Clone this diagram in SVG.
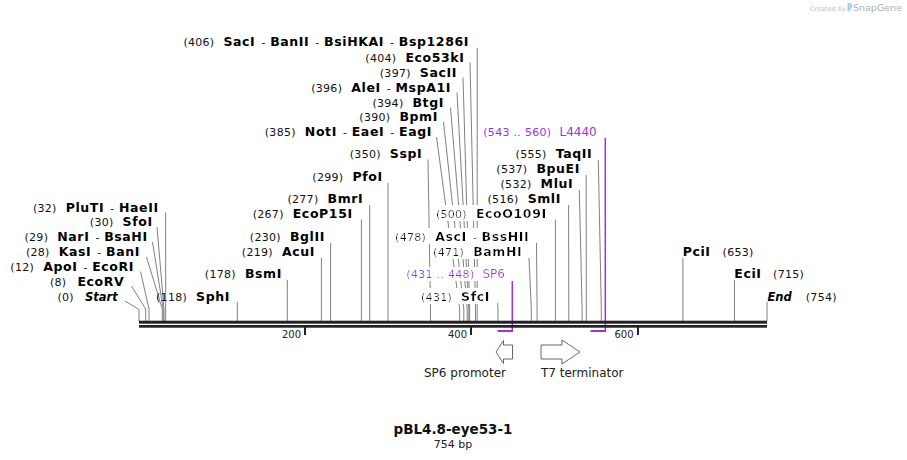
<svg xmlns="http://www.w3.org/2000/svg" width="907" height="460" viewBox="0 0 907 460">
<defs>
<filter id="bg" x="-0.02" y="0" width="1.04" height="1"><feFlood flood-color="#ffffff"/><feComposite in="SourceGraphic" operator="over"/></filter>
</defs>
<style>
text { font-family: "DejaVu Sans", Verdana, sans-serif; }
.lbl { font-size: 11px; fill: #111; text-anchor: end; letter-spacing: 0.3px; }
.r { text-anchor: start; }
.b { font-weight: bold; font-size: 12.5px; fill: #000; letter-spacing: 0.6px; }
.i { font-style: italic; font-size: 11.5px; letter-spacing: 0px; }
.p { fill: #9b30e8; }
.pn { font-size: 12px; letter-spacing: 0px; }
.hb { filter: url(#bg); }
.c { fill: none; stroke: #808080; stroke-width: 1; }
.pl { fill: none; stroke: #9b30e8; stroke-width: 1.5; }
.ph { fill: none; stroke: #9b30e8; stroke-width: 2; }
.bb { fill: #222; }
.arrow { fill: #fff; stroke: #666; stroke-width: 1; }
.feat { font-size: 12px; fill: #222; }
.tick { font-size: 10px; fill: #222; text-anchor: end; }
</style>
<rect width="907" height="460" fill="#fff"/>

<g id="watermark">
<text x="810" y="10.5" font-size="6.5" fill="#c0c0c0">Created by</text>
<path d="M847.5,3 h3 a1.5,1.5 0 0 1 1.5,1.5 v3 l-3,4 h-1.5 z" fill="#a9d4ee"/>
<text x="853" y="11" font-size="9.5" fill="#b0b0b0">SnapGene</text>
</g>

<g id="connectors">
<polyline class="c" points="125,301 139,309.5 139,321"/>
<polyline class="c" points="131.5,286 145.7,309 145.7,321"/>
<polyline class="c" points="140.5,271.5 149,309 149,321"/>
<polyline class="c" points="146.5,257 162.3,309 162.3,321"/>
<polyline class="c" points="152.5,242 163.2,309 163.2,321"/>
<polyline class="c" points="157,227 164,309 164,321"/>
<polyline class="c" points="165.6,212.5 165.7,309 165.7,321"/>
<polyline class="c" points="237.3,302 237.3,321"/>
<polyline class="c" points="287.3,280 287.3,321"/>
<polyline class="c" points="321.4,258 321.4,321"/>
<polyline class="c" points="330.6,243 330.6,321"/>
<polyline class="c" points="361.4,219.5 361.4,321"/>
<polyline class="c" points="369.7,205 369.7,321"/>
<polyline class="c" points="388,183 388,321"/>
<polyline class="c" points="428,159.5 430.5,309 430.5,321"/>
<polyline class="c" points="436.5,137 459.7,309 459.7,321"/>
<polyline class="c" points="443.5,122 463.8,309 463.8,321"/>
<polyline class="c" points="450.5,107.5 467.2,309 467.2,321"/>
<polyline class="c" points="457,92.5 468.8,309 468.8,321"/>
<polyline class="c" points="463,77.5 469.7,309 469.7,321"/>
<polyline class="c" points="470,62.5 475.5,309 475.5,321"/>
<polyline class="c" points="477.2,48 477.2,321"/>
<polyline class="c" points="497.6,303 498,309 498,321"/>
<polyline class="c" points="529,258 531.3,309 531.3,321"/>
<polyline class="c" points="536.5,243 537.1,309 537.1,321"/>
<polyline class="c" points="555.4,219.5 555.4,321"/>
<polyline class="c" points="568.6,205 568.8,309 568.8,321"/>
<polyline class="c" points="579.3,190 582.1,309 582.1,321"/>
<polyline class="c" points="586.2,175 586.3,309 586.3,321"/>
<polyline class="c" points="598.3,160 601.3,309 601.3,321"/>
<polyline class="c" points="682.9,258 682.9,321"/>
<polyline class="c" points="734.5,280 734.5,321"/>
<polyline class="c" points="767,302 767,321"/>
<polyline class="pl" points="512.3,281 512.3,331"/>
<polyline class="ph" points="497.5,331 513,331"/>
<polyline class="pl" points="605.3,138 605.3,331"/>
<polyline class="ph" points="590.5,331 606,331"/>
</g>

<g id="backbone">
<rect class="bb" x="139" y="320.7" width="628" height="3"/>
<rect class="bb" x="139" y="325" width="628" height="2.7"/>
<rect class="bb" x="304" y="327" width="2" height="8"/>
<rect class="bb" x="470" y="327" width="2" height="8"/>
<rect class="bb" x="637" y="327" width="2" height="8"/>
<text class="tick" x="301" y="337.5">200</text>
<text class="tick" x="467" y="337.5">400</text>
<text class="tick" x="633.5" y="337.5">600</text>
</g>

<g id="site-0"><text class="lbl" x="117.7" y="300.5">(0)<tspan class="b i" dx="11">Start</tspan></text></g>
<g id="site-8"><text class="lbl" x="124.3" y="285.7">(8)<tspan class="b" dx="11">EcoRV</tspan></text></g>
<g id="site-12"><text class="lbl" x="134" y="271">(12)<tspan class="b" dx="9">ApoI</tspan><tspan dx="6">-</tspan><tspan class="b" dx="4.5">EcoRI</tspan></text></g>
<g id="site-28"><text class="lbl" x="140" y="256">(28)<tspan class="b" dx="9">KasI</tspan><tspan dx="6">-</tspan><tspan class="b" dx="4.5">BanI</tspan></text></g>
<g id="site-29"><text class="lbl" x="147.7" y="241.3">(29)<tspan class="b" dx="9">NarI</tspan><tspan dx="6">-</tspan><tspan class="b" dx="4.5">BsaHI</tspan></text></g>
<g id="site-30"><text class="lbl" x="152.7" y="226.3">(30)<tspan class="b" dx="9">SfoI</tspan></text></g>
<g id="site-32"><text class="lbl" x="158.7" y="211.5">(32)<tspan class="b" dx="9">PluTI</tspan><tspan dx="6">-</tspan><tspan class="b" dx="4.5">HaeII</tspan></text></g>
<g id="site-118"><text class="lbl" x="230" y="300.5">(118)<tspan class="b" dx="9">SphI</tspan></text></g>
<g id="site-178"><text class="lbl" x="282" y="278">(178)<tspan class="b" dx="9">BsmI</tspan></text></g>
<g id="site-219"><text class="lbl" x="315" y="255.7">(219)<tspan class="b" dx="9">AcuI</tspan></text></g>
<g id="site-230"><text class="lbl" x="325" y="240.7">(230)<tspan class="b" dx="9">BglII</tspan></text></g>
<g id="site-267"><text class="lbl" x="352.7" y="217.7">(267)<tspan class="b" dx="9">EcoP15I</tspan></text></g>
<g id="site-277"><text class="lbl" x="363.3" y="202.7">(277)<tspan class="b" dx="9">BmrI</tspan></text></g>
<g id="site-299"><text class="lbl" x="382.7" y="180.7">(299)<tspan class="b" dx="9">PfoI</tspan></text></g>
<g id="site-350"><text class="lbl" x="422.3" y="158">(350)<tspan class="b" dx="9">SspI</tspan></text></g>
<g id="site-385"><text class="lbl" x="432" y="135.7">(385)<tspan class="b" dx="9">NotI</tspan><tspan dx="6">-</tspan><tspan class="b" dx="4.5">EaeI</tspan><tspan dx="6">-</tspan><tspan class="b" dx="4.5">EagI</tspan></text></g>
<g id="site-390"><text class="lbl" x="438" y="121">(390)<tspan class="b" dx="9">BpmI</tspan></text></g>
<g id="site-394"><text class="lbl" x="444" y="106.5">(394)<tspan class="b" dx="9">BtgI</tspan></text></g>
<g id="site-396"><text class="lbl" x="451" y="91.5">(396)<tspan class="b" dx="9">AleI</tspan><tspan dx="6">-</tspan><tspan class="b" dx="4.5">MspA1I</tspan></text></g>
<g id="site-397"><text class="lbl" x="457" y="76.5">(397)<tspan class="b" dx="9">SacII</tspan></text></g>
<g id="site-404"><text class="lbl" x="464.5" y="61.5">(404)<tspan class="b" dx="9">Eco53kI</tspan></text></g>
<g id="site-406"><text class="lbl" x="469" y="46.3">(406)<tspan class="b" dx="9">SacI</tspan><tspan dx="6">-</tspan><tspan class="b" dx="4.5">BanII</tspan><tspan dx="6">-</tspan><tspan class="b" dx="4.5">BsiHKAI</tspan><tspan dx="6">-</tspan><tspan class="b" dx="4.5">Bsp1286I</tspan></text></g>
<g id="site-431"><text class="lbl hb" x="490" y="300.7">(431)<tspan class="b" dx="9">SfcI</tspan></text></g>
<g id="site-471"><text class="lbl hb" x="522.3" y="256">(471)<tspan class="b" dx="9">BamHI</tspan></text></g>
<g id="site-478"><text class="lbl hb" x="529.3" y="240.8">(478)<tspan class="b" dx="9">AscI</tspan><tspan dx="6">-</tspan><tspan class="b" dx="4.5">BssHII</tspan></text></g>
<g id="site-500"><text class="lbl hb" x="546.7" y="217.7">(500)<tspan class="b" dx="9">EcoO109I</tspan></text></g>
<g id="site-516"><text class="lbl" x="561" y="203">(516)<tspan class="b" dx="9">SmlI</tspan></text></g>
<g id="site-532"><text class="lbl" x="573.3" y="187.7">(532)<tspan class="b" dx="9">MluI</tspan></text></g>
<g id="site-537"><text class="lbl" x="580" y="172.7">(537)<tspan class="b" dx="9">BpuEI</tspan></text></g>
<g id="site-555"><text class="lbl" x="592.3" y="157.7">(555)<tspan class="b" dx="9">TaqII</tspan></text></g>
<g id="site-653"><text class="lbl r" x="682.7" y="256"><tspan class="b">PciI</tspan><tspan dx="12">(653)</tspan></text></g>
<g id="site-715"><text class="lbl r" x="734.3" y="277.7"><tspan class="b">EciI</tspan><tspan dx="11.5">(715)</tspan></text></g>
<g id="site-754"><text class="lbl r" x="767.5" y="300.5"><tspan class="b i">End</tspan><tspan dx="14">(754)</tspan></text></g>

<g id="feature-SP6-label"><text class="lbl p hb" x="505" y="278">(431 .. 448)<tspan class="pn" dx="8">SP6</tspan></text></g>
<g id="feature-L4440-label"><text class="lbl p" x="596.7" y="135.7">(543 .. 560)<tspan class="pn" dx="8">L4440</tspan></text></g>

<g id="feature-SP6-promoter">
<polygon class="arrow" points="496,352 503.5,340.5 503.5,345 512.5,345 512.5,359 503.5,359 503.5,363.5"/>
<text class="feat" x="424" y="377">SP6 promoter</text>
</g>
<g id="feature-T7-terminator">
<polygon class="arrow" points="541,345 562,345 562,340 580,352 562,364 562,359 541,359"/>
<text class="feat" x="541" y="377">T7 terminator</text>
</g>

<g id="title">
<text x="453" y="434" text-anchor="middle" font-size="13.5" font-weight="bold" fill="#111">pBL4.8-eye53-1</text>
<text x="453" y="447.5" text-anchor="middle" font-size="11" fill="#222">754 bp</text>
</g>
</svg>
